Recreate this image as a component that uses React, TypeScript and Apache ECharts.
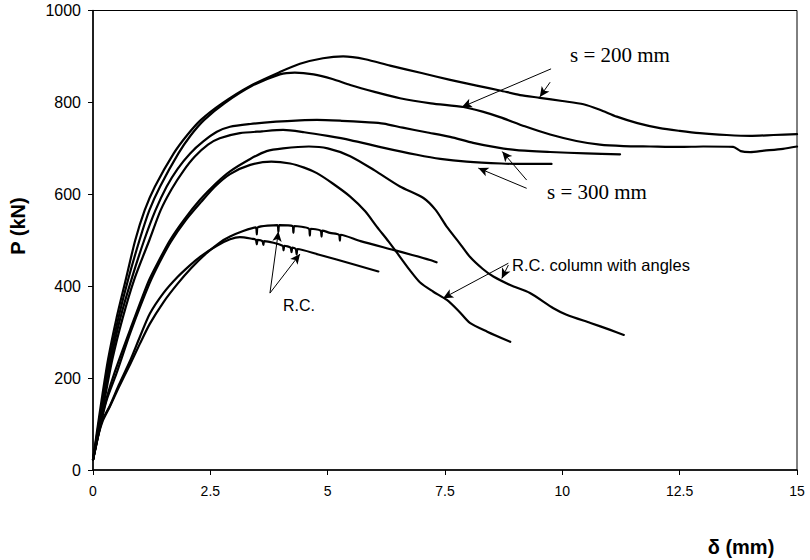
import React, { useEffect, useRef } from "react";
import * as echarts from "echarts";

// Load–deflection curves, δ (mm) against P (kN)
const xTicks = { min: 0, max: 15, interval: 2.5 };
const yTicks = { min: 0, max: 1000, interval: 200 };

// tie spacing s = 200 mm
const s200a: [number, number][] = [
  [0, 22], [0.08, 80], [0.18, 150], [0.32, 240], [0.5, 330], [0.7, 415], [0.9, 500], [1.1, 565],
  [1.32, 617], [1.72, 689], [2.0, 728], [2.3, 762], [2.75, 798], [3.35, 836], [3.98, 866],
  [4.41, 884], [4.9, 896], [5.33, 900], [5.8, 894], [6.33, 880], [7.0, 864], [7.61, 849],
  [8.2, 836], [8.67, 826], [9.1, 816], [9.52, 810], [10.0, 803], [10.45, 796], [10.8, 784],
  [11.16, 769], [11.6, 755], [12.08, 744], [12.5, 738], [12.93, 733], [13.5, 729], [14.0, 727],
  [14.5, 729], [15, 731],
];
const s200b: [number, number][] = [
  [0, 22], [0.09, 80], [0.2, 150], [0.35, 240], [0.54, 330], [0.75, 415], [0.99, 500], [1.2, 565],
  [1.43, 617], [1.82, 689], [2.08, 728], [2.37, 762], [2.8, 798], [3.37, 835], [3.98, 861],
  [4.3, 865], [4.7, 861], [5.1, 851], [5.48, 838], [6.0, 823], [6.54, 809], [7.2, 798],
  [7.89, 790], [8.3, 780], [8.67, 768], [9.2, 748], [9.74, 730], [10.3, 716], [10.8, 708],
  [11.3, 705], [11.87, 704], [12.5, 703], [13.0, 704], [13.64, 703], [13.8, 694], [14.0, 692],
  [14.3, 695], [14.7, 699], [15, 704],
];

// tie spacing s = 300 mm
const s300a: [number, number][] = [
  [0, 22], [0.1, 80], [0.22, 150], [0.38, 240], [0.58, 330], [0.82, 415], [1.09, 500], [1.33, 565],
  [1.57, 617], [1.8, 655], [2.07, 689], [2.35, 715], [2.64, 736], [2.92, 747], [3.35, 753],
  [3.9, 758], [4.41, 761], [4.77, 762], [5.3, 760], [5.8, 757], [6.19, 754], [6.6, 745],
  [7.1, 735], [7.61, 725], [8.1, 712], [8.6, 702], [9.03, 696], [9.74, 692], [10.5, 689],
  [11.23, 687],
];
const s300b: [number, number][] = [
  [0, 22], [0.11, 80], [0.24, 150], [0.41, 240], [0.63, 330], [0.88, 415], [1.2, 500], [1.44, 565],
  [1.68, 612], [1.92, 650], [2.17, 682], [2.45, 708], [2.7, 722], [3.13, 733], [3.6, 737],
  [4.05, 740], [4.5, 735], [5.0, 727], [5.48, 718], [6.2, 701], [6.9, 686], [7.4, 677],
  [7.96, 671], [8.7, 667], [9.2, 666], [9.77, 666],
];

// R.C. column with angles
const angA: [number, number][] = [
  [0, 22], [0.08, 60], [0.18, 110], [0.3, 160], [0.47, 215], [0.79, 305], [1.18, 410], [1.4, 455],
  [1.64, 500], [1.95, 546], [2.28, 588], [2.6, 622], [2.92, 650], [3.35, 677], [3.7, 694],
  [4.05, 700], [4.6, 704], [5.0, 700], [5.48, 683], [6.0, 652], [6.54, 617], [7.04, 592],
  [7.3, 566], [7.54, 529], [7.8, 495], [8.03, 464], [8.3, 438], [8.53, 421], [8.9, 402],
  [9.31, 385], [9.81, 352], [10.09, 338], [10.6, 320], [11.02, 305], [11.31, 294],
];
const angB: [number, number][] = [
  [0, 22], [0.08, 60], [0.18, 108], [0.3, 155], [0.5, 210], [0.8, 300], [1.2, 405], [1.42, 452],
  [1.66, 497], [1.97, 543], [2.3, 583], [2.6, 617], [2.92, 644], [3.35, 664], [3.8, 671],
  [4.2, 667], [4.5, 658], [4.77, 646], [5.1, 624], [5.48, 595], [5.8, 563], [6.05, 529],
  [6.3, 497], [6.54, 464], [6.75, 435], [6.97, 408], [7.25, 388], [7.54, 370], [7.8, 345],
  [8.03, 320], [8.4, 301], [8.89, 279],
];

// R.C. column
const rcA: [number, number][] = [
  [0, 22], [0.1, 70], [0.2, 105], [0.36, 138], [0.55, 180], [0.8, 232], [1.0, 275], [1.21, 318],
  [1.5, 365], [1.8, 405], [2.1, 440], [2.4, 470], [2.7, 495], [2.92, 508], [3.2, 520],
  [3.47, 528], [3.49, 513], [3.51, 528], [3.93, 533], [3.95, 518], [3.97, 533], [4.25, 531],
  [4.27, 516], [4.29, 531], [4.6, 525], [4.62, 510], [4.64, 525], [4.85, 521], [4.87, 508],
  [4.89, 521], [5.05, 516], [5.24, 512], [5.26, 499], [5.28, 512], [5.7, 498], [6.4, 479],
  [6.8, 468], [7.18, 457], [7.32, 452],
];
const rcB: [number, number][] = [
  [0, 22], [0.1, 72], [0.2, 108], [0.36, 140], [0.55, 185], [0.8, 240], [1.0, 290], [1.21, 340],
  [1.5, 385], [1.8, 420], [2.07, 446], [2.28, 464], [2.64, 488], [2.92, 502], [3.13, 507],
  [3.4, 503], [3.47, 501], [3.49, 491], [3.51, 501], [3.61, 498], [3.63, 490], [3.65, 498],
  [4.04, 488], [4.06, 478], [4.08, 488], [4.21, 484], [4.23, 474], [4.25, 484], [4.32, 481],
  [4.34, 469], [4.36, 481], [4.8, 469], [5.19, 458], [5.6, 446], [6.08, 432],
];

const curves: { name: string; data: [number, number][] }[] = [
  { name: "s = 200 mm (1)", data: s200a },
  { name: "s = 200 mm (2)", data: s200b },
  { name: "s = 300 mm (1)", data: s300a },
  { name: "s = 300 mm (2)", data: s300b },
  { name: "R.C. column with angles (1)", data: angA },
  { name: "R.C. column with angles (2)", data: angB },
  { name: "R.C. (1)", data: rcA },
  { name: "R.C. (2)", data: rcB },
];

// leader arrows [δ start, P start, δ tip, P tip]
const arrows: [number, number, number, number][] = [
  [9.76, 873, 7.86, 790],
  [9.74, 844, 9.52, 812],
  [9.24, 631, 8.72, 693],
  [9.24, 613, 8.21, 657],
  [3.77, 385, 3.95, 519],
  [3.77, 385, 4.41, 470],
  [8.85, 450, 7.46, 374],
  [8.85, 446, 8.71, 417],
];

const SANS = '"Liberation Sans", Arial, sans-serif';
const SERIF = '"Liberation Serif", "Times New Roman", serif';

export default function App() {
  const ref = useRef<HTMLDivElement>(null);

  useEffect(() => {
    if (!ref.current) return;
    const chart = echarts.init(ref.current, undefined, { renderer: "svg" });

    const series: any[] = curves.map((c, i) => ({
      name: c.name,
      type: "line",
      data: c.data,
      showSymbol: false,
      smooth: 0.25,
      lineStyle: { color: "#000", width: 2.2, join: "round", cap: "round" },
      itemStyle: { color: "#000" },
      silent: true,
      ...(i === 0
        ? {
            markLine: {
              silent: true,
              symbol: ["none", "arrow"],
              symbolSize: [7, 10],
              lineStyle: { color: "#000", width: 1, type: "solid" },
              label: { show: false },
              emphasis: { disabled: true },
              data: arrows.map((a) => [
                { coord: [a[0], a[1]] },
                { coord: [a[2], a[3]] },
              ]),
            },
          }
        : {}),
    }));

    const textStyle = (text: string, size: number, family: string, weight = "normal") => ({
      text,
      fontSize: size,
      fontFamily: family,
      fontWeight: weight,
      fill: "#000",
      align: "left",
      verticalAlign: "middle",
    });

    chart.setOption({
      animation: false,
      backgroundColor: "#fff",
      grid: {
        left: 93,
        right: 13,
        top: 10.5,
        bottom: 90,
        show: true,
        borderColor: "#000",
        borderWidth: 1,
      },
      xAxis: {
        type: "value",
        min: xTicks.min,
        max: xTicks.max,
        interval: xTicks.interval,
        axisLine: { show: true, onZero: false, lineStyle: { color: "#000", width: 1.5 } },
        axisTick: { show: true, inside: false, length: 5, lineStyle: { color: "#000" } },
        splitLine: { show: false },
        axisLabel: { color: "#000", fontSize: 14, fontFamily: SANS, margin: 14 },
      },
      yAxis: {
        type: "value",
        min: yTicks.min,
        max: yTicks.max,
        interval: yTicks.interval,
        axisLine: { show: true, onZero: false, lineStyle: { color: "#000", width: 1.5 } },
        axisTick: { show: true, inside: false, length: 5, lineStyle: { color: "#000" } },
        splitLine: { show: false },
        axisLabel: {
          color: "#000",
          fontSize: 16,
          fontFamily: SANS,
          margin: 12,
          formatter: (v: number) => String(v),
        },
      },
      series,
      graphic: [
        { type: "text", x: 570, y: 55, style: textStyle("s = 200 mm", 21, SERIF) },
        { type: "text", x: 547, y: 192, style: textStyle("s = 300 mm", 21, SERIF) },
        { type: "text", x: 283, y: 305, style: textStyle("R.C.", 16, SANS) },
        { type: "text", x: 512, y: 265, style: textStyle("R.C. column with angles", 16.5, SANS) },
        {
          type: "text",
          x: 18,
          y: 226,
          rotation: Math.PI / 2,
          style: { ...textStyle("P (kN)", 20, SANS, "bold"), align: "center" },
        },
        {
          type: "text",
          x: 741,
          y: 547,
          style: { ...textStyle("δ (mm)", 20, SANS, "bold"), align: "center" },
        },
      ],
    });

    return () => chart.dispose();
  }, []);

  return (
    <div
      ref={ref}
      style={{ position: "fixed", left: 0, top: 0, width: 810, height: 560, background: "#fff" }}
    />
  );
}
